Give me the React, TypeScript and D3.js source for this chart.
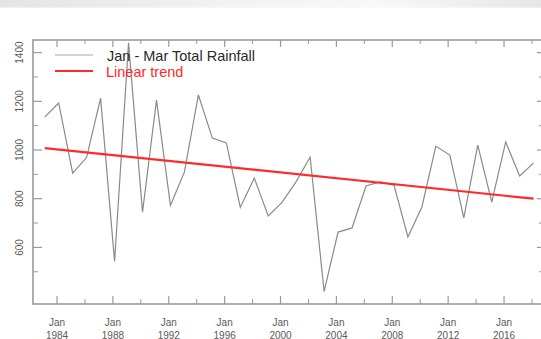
import React from "react";
import * as d3 from "d3";

// Jan–Mar total rainfall per year (mm)
const years: number[] = [
  1983, 1984, 1985, 1986, 1987, 1988, 1989, 1990, 1991, 1992, 1993, 1994,
  1995, 1996, 1997, 1998, 1999, 2000, 2001, 2002, 2003, 2004, 2005, 2006,
  2007, 2008, 2009, 2010, 2011, 2012, 2013, 2014, 2015, 2016, 2017, 2018,
];
const rainfall: number[] = [
  1135, 1193, 905, 970, 1213, 542, 1440, 745, 1205, 772, 910, 1226,
  1049, 1029, 764, 885, 729, 786, 870, 971, 419, 663, 680, 852,
  869, 856, 643, 766, 1016, 979, 721, 1020, 786, 1033, 893, 947,
];
// linear trend endpoints (first and last year)
const trendYears: number[] = [1983, 2018];
const trendValues: number[] = [1008, 800];

const yMajorTicks: number[] = [600, 800, 1000, 1200, 1400];
const yMinorTicks: number[] = [500, 700, 900, 1100, 1300];
const xMajorYears: number[] = [1984, 1988, 1992, 1996, 2000, 2004, 2008, 2012, 2016];
const xMinorYears: number[] = [1986, 1990, 1994, 1998, 2002, 2006, 2010, 2014, 2018];

const legendLabels: string[] = ["Jan - Mar Total Rainfall", "Linear trend"];

const W = 541;
const H = 339;
const left = 33;
const right = 543;
const top = 40;
const bottom = 304;
const midFeb = 0.12;

const frameColor = "#9a9a9a";
const seriesColor = "#8a8a8a";
const trendColor = "#ff2a2a";
const font = "'Liberation Sans', Arial, Helvetica, sans-serif";

export default function App() {
  const x = d3.scaleLinear().domain([1982.28, 2018.79]).range([left, right]);
  const y = d3.scaleLinear().domain([367.6, 1451.7]).range([bottom, top]);

  const line = d3
    .line<[number, number]>()
    .x((d) => x(d[0] + midFeb))
    .y((d) => y(d[1]));

  const series: [number, number][] = years.map((yr, i) => [yr, rainfall[i]]);
  const trend: [number, number][] = trendYears.map((yr, i) => [yr, trendValues[i]]);

  return (
    <svg
      width={W}
      height={H}
      style={{ position: "absolute", left: 0, top: 0, background: "#fff" }}
      fontFamily={font}
    >
      <defs>
        <linearGradient id="band" x1="0" x2="1" y1="0" y2="0">
          <stop offset="0" stopColor="#e4e4e4" />
          <stop offset="0.45" stopColor="#f3f3f3" />
          <stop offset="0.7" stopColor="#f8f8f8" />
          <stop offset="1" stopColor="#e6e6e6" />
        </linearGradient>
        <linearGradient id="fade" x1="0" x2="0" y1="0" y2="1">
          <stop offset="0" stopColor="#fff" stopOpacity={0} />
          <stop offset="1" stopColor="#fff" stopOpacity={1} />
        </linearGradient>
        <clipPath id="plot">
          <rect x={left} y={top} width={right - left} height={bottom - top} />
        </clipPath>
      </defs>
      <rect x={0} y={0} width={W} height={H} fill="#fff" />
      <rect x={0} y={0} width={W} height={8} fill="url(#band)" />
      <rect x={0} y={6} width={W} height={4} fill="url(#fade)" />

      {/* frame */}
      <rect
        x={left}
        y={top}
        width={right - left}
        height={bottom - top}
        fill="none"
        stroke={frameColor}
        strokeWidth={1.6}
      />

      {/* x ticks, bottom and top */}
      {xMajorYears.map((yr) => (
        <g key={"xM" + yr} stroke={frameColor} strokeWidth={1.2}>
          <line x1={x(yr)} x2={x(yr)} y1={bottom} y2={bottom - 8} />
          <line x1={x(yr)} x2={x(yr)} y1={top} y2={top + 7} />
        </g>
      ))}
      {xMinorYears.map((yr) => (
        <g key={"xm" + yr} stroke={frameColor} strokeWidth={1}>
          <line x1={x(yr)} x2={x(yr)} y1={bottom} y2={bottom - 5} />
          <line x1={x(yr)} x2={x(yr)} y1={top} y2={top + 4} />
        </g>
      ))}
      {xMajorYears.map((yr) => (
        <text
          key={"xl" + yr}
          x={x(yr)}
          textAnchor="middle"
          fontSize={10}
          fill="#5a5a5a"
        >
          <tspan x={x(yr)} y={325.5}>Jan</tspan>
          <tspan x={x(yr)} y={338.5}>{yr}</tspan>
        </text>
      ))}

      {/* y ticks, left and right */}
      {yMajorTicks.map((v) => (
        <g key={"yM" + v} stroke={frameColor} strokeWidth={1.2}>
          <line x1={left} x2={left + 9} y1={y(v)} y2={y(v)} />
          <line x1={right} x2={right - 6} y1={y(v)} y2={y(v)} />
        </g>
      ))}
      {yMinorTicks.map((v) => (
        <g key={"ym" + v} stroke={frameColor} strokeWidth={1}>
          <line x1={left} x2={left + 5} y1={y(v)} y2={y(v)} />
          <line x1={right} x2={right - 4} y1={y(v)} y2={y(v)} />
        </g>
      ))}
      {yMajorTicks.map((v) => (
        <text
          key={"yl" + v}
          transform={`translate(23,${y(v)}) rotate(-90)`}
          textAnchor="middle"
          fontSize={10}
          fill="#5a5a5a"
        >
          {v}
        </text>
      ))}

      {/* series */}
      <g clipPath="url(#plot)">
        <path d={line(series) ?? ""} fill="none" stroke={seriesColor} strokeWidth={1.2} strokeLinejoin="miter" />
        <path d={line(trend) ?? ""} fill="none" stroke={trendColor} strokeWidth={2.2} />
      </g>

      {/* legend */}
      <line x1={55} x2={93} y1={55} y2={55} stroke="#aaa" strokeWidth={1.2} />
      <text x={107} y={60.5} fontSize={14.5} fill="#2a2a2a">
        {legendLabels[0]}
      </text>
      <line x1={55} x2={93} y1={71} y2={71} stroke={trendColor} strokeWidth={2} />
      <text x={106} y={76.5} fontSize={14.5} fill={trendColor}>
        {legendLabels[1]}
      </text>
    </svg>
  );
}
